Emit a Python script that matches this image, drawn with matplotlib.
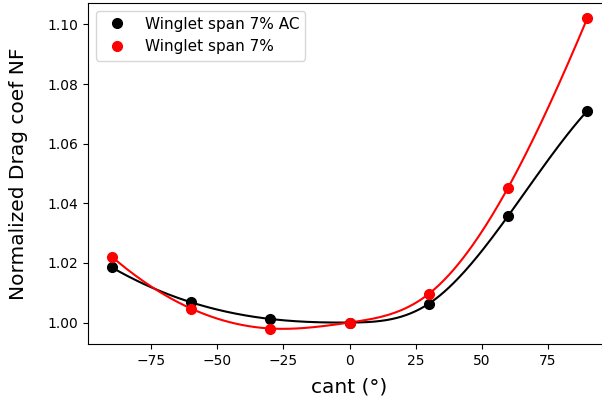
import numpy as np
import matplotlib
matplotlib.use("Agg")
import matplotlib.pyplot as plt

cant = [-90, -60, -30, 0, 30, 60, 90]
nf_ac = [1.0185, 1.0068, 1.0012, 1.0000, 1.0063, 1.0357, 1.0710]
nf = [1.0221, 1.0047, 0.9980, 1.0000, 1.0096, 1.0452, 1.1020]


def spline(x, y, n=300):
    """Not-a-knot cubic spline through the data points."""
    x = np.asarray(x, float)
    y = np.asarray(y, float)
    m = len(x)
    h = np.diff(x)
    A = np.zeros((m, m))
    b = np.zeros(m)
    A[0, 0], A[0, 1], A[0, 2] = 1 / h[0], -(1 / h[0] + 1 / h[1]), 1 / h[1]
    A[-1, -3], A[-1, -2], A[-1, -1] = 1 / h[-2], -(1 / h[-2] + 1 / h[-1]), 1 / h[-1]
    for i in range(1, m - 1):
        A[i, i - 1] = h[i - 1]
        A[i, i] = 2 * (h[i - 1] + h[i])
        A[i, i + 1] = h[i]
        b[i] = 6 * ((y[i + 1] - y[i]) / h[i] - (y[i] - y[i - 1]) / h[i - 1])
    M = np.linalg.solve(A, b)
    xs = np.linspace(x[0], x[-1], n)
    idx = np.clip(np.searchsorted(x, xs) - 1, 0, m - 2)
    x0, x1 = x[idx], x[idx + 1]
    hh = x1 - x0
    t0 = x1 - xs
    t1 = xs - x0
    ys = (M[idx] * t0 ** 3 / (6 * hh) + M[idx + 1] * t1 ** 3 / (6 * hh)
          + (y[idx] / hh - M[idx] * hh / 6) * t0
          + (y[idx + 1] / hh - M[idx + 1] * hh / 6) * t1)
    return xs, ys


fig = plt.figure(figsize=(6.02, 4.04), dpi=100)
ax = fig.add_axes([88 / 602, 1 - 344 / 404, 523 / 602, 341 / 404])

xs, ys = spline(cant, nf_ac)
ax.plot(xs, ys, color='black', lw=1.5)
xs, ys = spline(cant, nf)
ax.plot(xs, ys, color='red', lw=1.5)
ax.plot(cant, nf_ac, 'o', color='black', ms=7, label='Winglet span 7% AC')
ax.plot(cant, nf, 'o', color='red', ms=7, label='Winglet span 7%')

ax.set_xlim(-99, 99)
ax.set_ylim(0.9928, 1.1072)
ax.set_xticks([-75, -50, -25, 0, 25, 50, 75])
ax.set_yticks([1.00, 1.02, 1.04, 1.06, 1.08, 1.10])
ax.set_yticklabels(['1.00', '1.02', '1.04', '1.06', '1.08', '1.10'])
ax.tick_params(labelsize=10)
ax.set_xlabel('cant (°)', fontsize=14.5, labelpad=7)
ax.set_ylabel('Normalized Drag coef NF', fontsize=14.5)
ax.yaxis.set_label_coords(-0.115, 0.5)
ax.legend(loc='upper left', fontsize=11)

fig.savefig('out.png', dpi=100)
